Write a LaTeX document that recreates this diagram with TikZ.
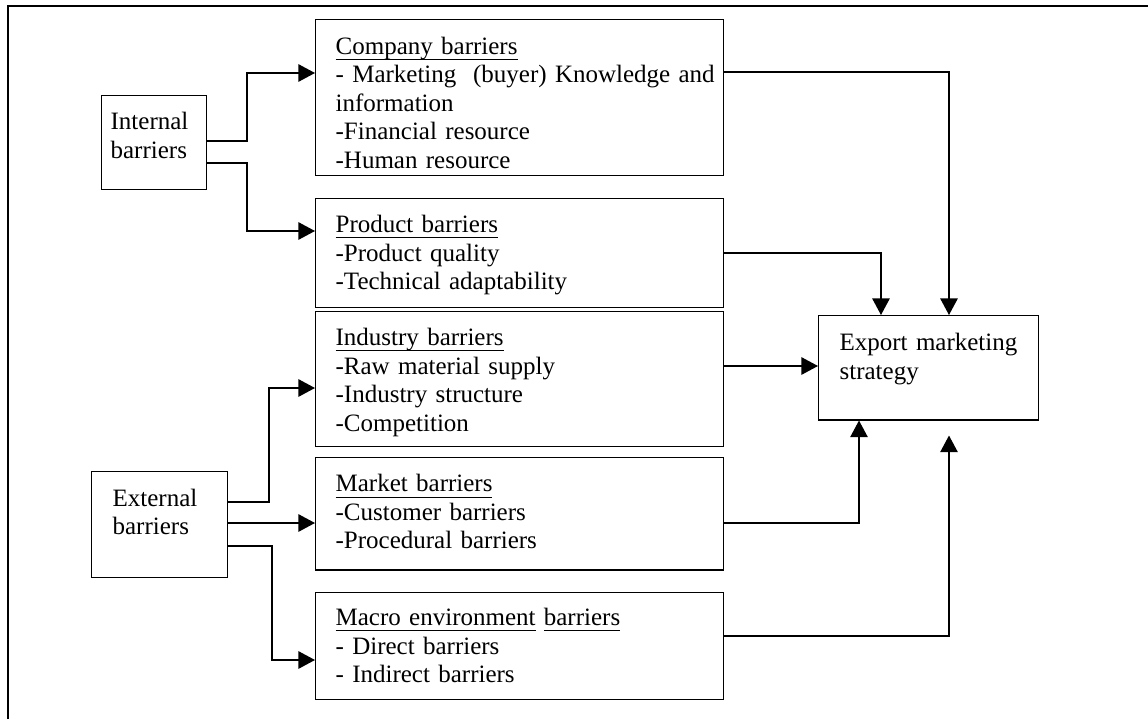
\documentclass[tikz,border=0pt]{standalone}
\usepackage{fontspec}
\setmainfont{Liberation Serif}
\usepackage{tikz}
\usetikzlibrary{arrows.meta, positioning, calc}
\newcommand{\groupname}[1]{\underline{\smash{#1}\rule[-1pt]{0pt}{1pt}}}
\tikzset{
  barrier/.style={
	draw, % plain black frame round each group of barriers
	line width=0.6pt,
	anchor=north west, % boxes are placed by their top left corner
	align=left, % every list starts at the left side
	inner ysep=0pt, % the height comes from text height and text depth
	font=\fontsize{12pt}{13.68pt}\selectfont,
  },
  link/.style={
	-{Triangle[length=8pt, width=8.4pt]}, % filled arrow head
	line width=0.65pt,
  },
  frame/.style={
	line width=1pt, % the page frame
  }
}

\begin{document}
\begin{tikzpicture}[x=0.48pt, y=-0.48pt]
	  \useasboundingbox (0,0) rectangle (1148,719);
	  \draw[frame] (8,719) -- (8,6) -- (1148,6);
	  % sources
	  \node[barrier, text width=41.76pt, inner xsep=4.32pt, text height=16.46pt, text depth=28.66pt] (intb) at (101,95) {Internal\\barriers};
	  \node[barrier, text width=45.12pt, inner xsep=10.08pt, text height=16.66pt, text depth=34.22pt] (exb) at (91,471) {External\\barriers};
	  % groups of barriers
	  \node[barrier, text width=176.64pt, inner xsep=9.6pt, text height=16.56pt, text depth=58.32pt] (comp) at (315,19) {\groupname{Company barriers}\\\mbox{- Marketing\ \ (buyer) Knowledge and}\\information\\-Financial resource\\-Human resource};
	  \node[barrier, text width=176.64pt, inner xsep=9.6pt, text height=16.32pt, text depth=36pt] (prod) at (315,198) {\groupname{Product barriers}\\-Product quality\\-Technical adaptability};
	  \node[barrier, text width=176.64pt, inner xsep=9.6pt, text height=16.32pt, text depth=48.48pt] (ind) at (315,311) {\groupname{Industry barriers}\\-Raw material supply\\-Industry structure\\-Competition};
	  \node[barrier, text width=176.64pt, inner xsep=9.6pt, text height=16.46pt, text depth=37.44pt] (mkt) at (315,457) {\groupname{Market barriers}\\-Customer barriers\\-Procedural barriers};
	  \node[barrier, text width=176.64pt, inner xsep=9.6pt, text height=15.84pt, text depth=35.52pt] (mac) at (315,592) {\groupname{Macro environment} \groupname{barriers}\\- Direct barriers\\- Indirect barriers};
	  % target
	  \node[barrier, text width=85.44pt, inner xsep=10.08pt, text height=16.8pt, text depth=33.26pt] (exp) at (818,315) {Export marketing\\strategy};
	  % internal and external barriers to their groups
	  \draw[link] (intb.east |- 0,141) -- (247,141) |- (comp.west |- 0,73);
	  \draw[link] (intb.east |- 0,163) -- (247,163) |- (prod.west |- 0,231);
	  \draw[link] (exb.east |- 0,502) -- (269,502) |- (ind.west |- 0,388);
	  \draw[link] (exb.east |- 0,523) -- (mkt.west |- 0,523);
	  \draw[link] (exb.east |- 0,546) -- (272,546) |- (mac.west |- 0,660);
	  % groups to the strategy
	  \draw[link] (comp.east |- 0,72) -| (exp.north -| 949,0);
	  \draw[link] (prod.east |- 0,253) -| (exp.north -| 881,0);
	  \draw[link] (ind.east |- 0,366) -- (exp.west |- 0,366);
	  \draw[link] (mkt.east |- 0,523) -| (exp.south -| 859,0);
	  \draw[link, shorten >=7.2pt] (mac.east |- 0,636) -| (exp.south -| 949,0);
\end{tikzpicture}
\end{document}
